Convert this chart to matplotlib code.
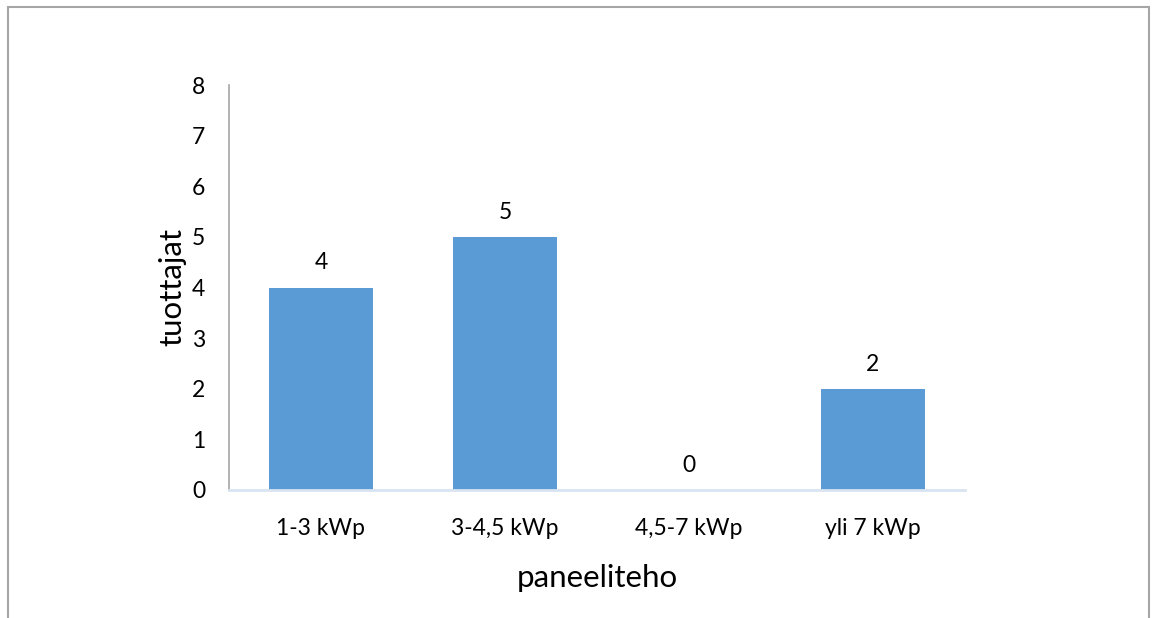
import matplotlib
matplotlib.use("Agg")
import matplotlib.pyplot as plt
from matplotlib.patches import Rectangle

categories = ["1-3 kWp", "3-4,5 kWp", "4,5-7 kWp", "yli 7 kWp"]
values = [4, 5, 0, 2]
y_ticks = [0, 1, 2, 3, 4, 5, 6, 7, 8]

plt.rcParams["font.family"] = ["Lato", "DejaVu Sans"]

fig = plt.figure(figsize=(11.52, 6.18), dpi=100)
ax = fig.add_axes([229 / 1152, 1 - 490 / 618, (965 - 229) / 1152, (490 - 85) / 618])

# Outer chart frame (bottom edge runs past the canvas)
fig.patches.append(Rectangle((8 / 1152, -0.1), (1149 - 8) / 1152, 1.1 - 7 / 618,
                             transform=fig.transFigure, fill=False,
                             edgecolor="#A6A6A6", linewidth=1.5))

x = range(len(categories))
bars = ax.bar(x, values, width=0.56, color="#5B9BD5")
for xi, v in zip(x, values):
    ax.text(xi, v + 0.28, str(v), ha="center", va="bottom", fontsize=16.5, color="black")

ax.set_xlim(-0.5, len(categories) - 0.5)
ax.set_ylim(0, 8)
ax.set_yticks(y_ticks)
ax.set_xticks(list(x))
ax.set_xticklabels(categories)
ax.tick_params(axis="both", length=0, labelsize=16.5, colors="black")
ax.tick_params(axis="y", pad=17)
ax.tick_params(axis="x", pad=20)

for side in ("top", "right"):
    ax.spines[side].set_visible(False)
ax.spines["left"].set_color("#A6A6A6")
ax.spines["left"].set_linewidth(1.2)
ax.spines["bottom"].set_color("#D9E4F2")
ax.spines["bottom"].set_linewidth(2.0)

ax.set_xlabel("paneeliteho", fontsize=22.5, labelpad=18)
ax.set_ylabel("tuottajat", fontsize=22.5, labelpad=4)

fig.savefig("out.png", dpi=100)
